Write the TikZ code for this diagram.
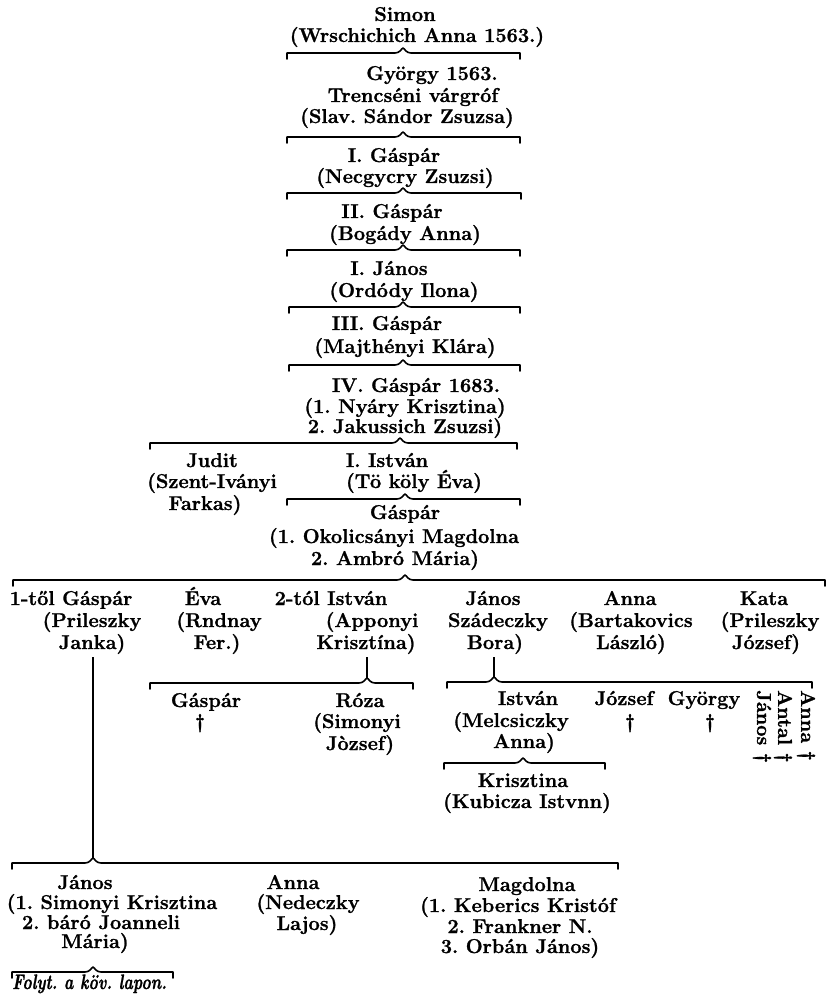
\documentclass[tikz,border=0pt]{standalone}
\usepackage{tikz}
\usepackage{fontspec}
\newfontfamily\heavy{lmroman12-bold.otf}[FakeBold=1.2]
\newfontfamily\heavyit{lmroman10-bolditalic.otf}[FakeBold=1.2]
\tikzset{
  txt/.style={anchor=base, inner sep=0pt, font=\fontsize{20}{24}\selectfont\heavy},
  brk/.style={line width=1.6pt, line cap=round, line join=round},
  ln/.style={line width=1.6pt},
  note/.style={anchor=base west, inner sep=0pt, xscale=0.76, transform shape, font=\fontsize{21}{23}\selectfont\heavyit},
}
\newcommand\lineat[4]{\node[txt] (#1) at (#2,#3) {#4};}
% name, y, left, peak, right
\newcommand\bracketat[5]{%
  \draw[brk] (#3,#2+6) -- (#3,#2) -- (#4-8,#2) .. controls (#4-3,#2) and (#4-2,#2-4) .. (#4,#2-5)
    .. controls (#4+2,#2-4) and (#4+3,#2) .. (#4+8,#2) -- (#5,#2) -- (#5,#2+6);
  \coordinate (#1) at (#4,#2-5);}
\begin{document}
\frenchspacing
\begin{tikzpicture}[x=1pt,y=-1pt]
\useasboundingbox (0,0) rectangle (832,1000);

\lineat{simA}{405}{21}{Simon}
\lineat{simB}{417}{42}{(Wrschichich Anna 1563.)}
\bracketat{b1}{53}{287}{403}{520}
\lineat{gyA}{432}{80}{György 1563.}
\lineat{gyB}{413}{102}{Trencséni várgróf}
\lineat{gyC}{407}{123}{(Slav. Sándor Zsuzsa)}
\bracketat{b2}{137}{287}{403}{520}
\lineat{gaA}{394}{162}{I. Gáspár}
\lineat{gaB}{405}{183}{(Necgycry Zsuzsi)}
\bracketat{b3}{193}{287}{403}{521}
\lineat{gbA}{392}{218}{II. Gáspár}
\lineat{gbB}{405}{240}{(Bogády Anna)}
\bracketat{b4}{250}{287}{403}{520}
\lineat{jaA}{389}{275}{I. János}
\lineat{jaB}{404}{297}{(Ordódy Ilona)}
\bracketat{b5}{307}{289}{403}{520}
\lineat{gcA}{387}{330}{III. Gáspár}
\lineat{gcB}{405}{353}{(Majthényi Klára)}
\bracketat{b6}{365}{289}{403}{520}
\lineat{gdA}{416}{392}{IV. Gáspár 1683.}
\lineat{gdB}{405}{413}{(1. Nyáry Krisztina)}
\lineat{gdC}{405}{433}{2. Jakussich Zsuzsi)}
\bracketat{b7}{443}{150}{400}{517}

\lineat{juA}{212}{467}{Judit}
\lineat{juB}{212}{488}{(Szent-Iványi}
\lineat{juC}{205}{510}{Farkas)}
\lineat{isA}{387}{467}{I. István}
\lineat{isB}{414}{488}{(Tö köly Éva)}
\bracketat{b8}{499}{287}{405}{520}
\lineat{geA}{405}{519}{Gáspár}
\lineat{geB}{394}{543}{(1. Okolicsányi Magdolna}
\lineat{geC}{395}{565}{2. Ambró Mária)}
\bracketat{b9}{580}{13}{405}{825}

\lineat{caA}{71}{605}{1-től Gáspár}
\lineat{caB}{92}{627}{(Prileszky}
\lineat{caC}{92}{649}{Janka)}
\lineat{cbA}{203}{605}{Éva}
\lineat{cbB}{219}{627}{(Rndnay}
\lineat{cbC}{217}{649}{Fer.)}
\lineat{ccA}{331}{605}{2-tól István}
\lineat{ccB}{372}{627}{(Apponyi}
\lineat{ccC}{366}{649}{Krisztína)}
\lineat{cdA}{493}{605}{János}
\lineat{cdB}{498}{627}{Szádeczky}
\lineat{cdC}{495}{649}{Bora)}
\lineat{ceA}{630}{605}{Anna}
\lineat{ceB}{631}{627}{(Bartakovics}
\lineat{ceC}{631}{649}{László)}
\lineat{cfA}{764}{605}{Kata}
\lineat{cfB}{770}{627}{(Prileszky}
\lineat{cfC}{766}{649}{József)}

\bracketat{b10}{683}{150}{367}{413}
\draw[ln, shorten <=3pt] (ccC.south -| b10) -- (b10);
\lineat{dA}{206}{707}{Gáspár}
\lineat{dB}{200}{728}{†}
\lineat{rA}{360}{707}{Róza}
\lineat{rB}{357}{728}{(Simonyi}
\lineat{rC}{360}{750}{Jòzsef)}

\bracketat{b11}{682}{447}{494}{812}
\draw[ln, shorten <=3pt] (cdC.south -| b11) -- (b11);
\lineat{iA}{528}{705}{István}
\lineat{iB}{511}{727}{(Melcsiczky}
\lineat{iC}{524}{748}{Anna)}
\bracketat{b12}{763}{444}{523}{605}
\lineat{kA}{523}{787}{Krisztina}
\lineat{kB}{527}{808}{(Kubicza Istvnn)}
\lineat{jzA}{624}{705}{József}
\lineat{jzB}{630}{728}{†}
\lineat{gyyA}{704}{705}{György}
\lineat{gyyB}{710}{728}{†}
\node[txt, anchor=west, rotate=-90] (rJ) at (762,690) {János †};
\node[txt, anchor=west, rotate=-90] (rAn) at (783,690) {Antal †};
\node[txt, anchor=west, rotate=-90] (rAa) at (806,690) {Anna †};

\bracketat{b13}{863}{12}{93}{618}
\draw[ln, shorten <=3pt] (caC.south -| b13) -- (b13);
\lineat{jnA}{85}{889}{János}
\lineat{jnB}{112}{909}{(1. Simonyi Krisztina}
\lineat{jnC}{101}{929}{2. báró Joanneli}
\lineat{jnD}{95}{948}{Mária)}
\lineat{anA}{293}{889}{Anna}
\lineat{anB}{308}{909}{(Nedeczky}
\lineat{anC}{307}{930}{Lajos)}
\lineat{mgA}{527}{891}{Magdolna}
\lineat{mgB}{518}{912}{(1. Keberics Kristóf}
\lineat{mgC}{520}{933}{2. Frankner N.}
\lineat{mgD}{520}{953}{3. Orbán János)}
\bracketat{b14}{972}{12}{93}{173}
\node[note] (folyt) at (12,989) {Folyt. a köv. lapon.};
\end{tikzpicture}
\end{document}
